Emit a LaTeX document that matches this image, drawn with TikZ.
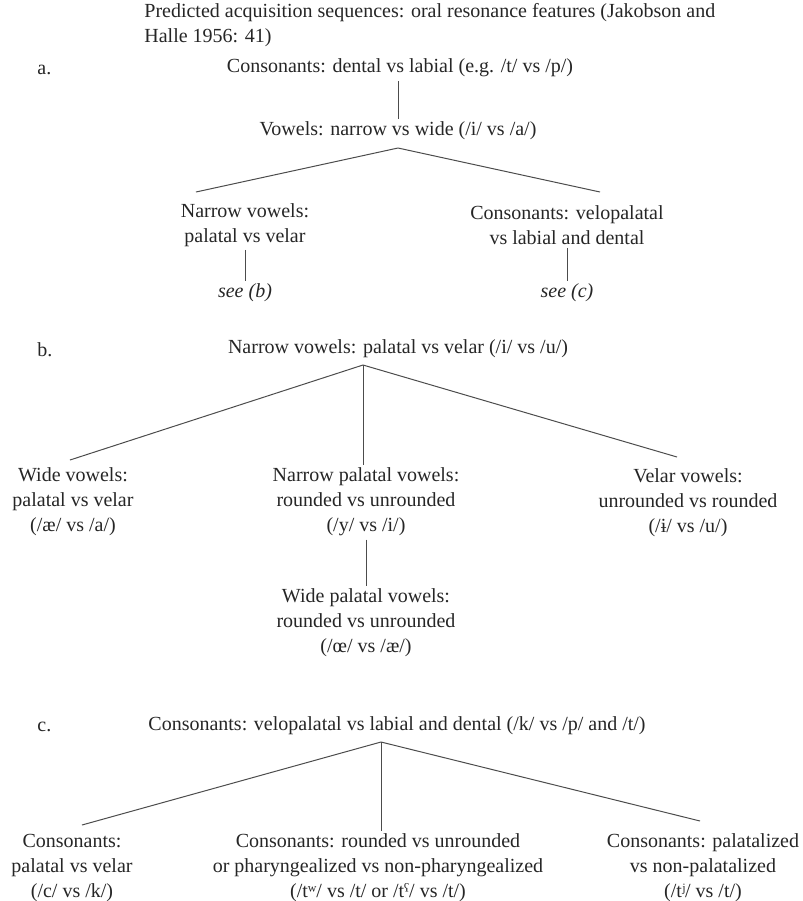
\documentclass[tikz,border=0pt]{standalone}
\usepackage{fontspec}
\setmainfont{Liberation Serif}
\usetikzlibrary{positioning}

\tikzset{
  lbl/.style={inner sep=1.5pt, align=center, text=black!85,
    font=\fontsize{10}{12.5}\selectfont},
  seelbl/.style={lbl, font=\fontsize{10}{12.5}\selectfont\itshape},
  branch/.style={draw=black!70, line width=0.5pt},
}

\begin{document}
\begin{tikzpicture}[x=0.5pt,y=-0.5pt]
  \useasboundingbox (0,0) rectangle (803,901);

  \node[lbl, anchor=west, align=left] (title) at (141,25)
    {Predicted acquisition sequences: oral resonance features (Jakobson and\\Halle 1956: 41)};

  % a.
  \node[lbl, anchor=west] (la) at (34,70) {a.};
  \node[lbl] (atop) at (400,68) {Consonants: dental vs labial (e.g. /t/ vs /p/)};
  \node[lbl] (avow) at (398,131) {Vowels: narrow vs wide (/i/ vs /a/)};
  \node[lbl] (anar) at (245,225) {Narrow vowels:\\palatal vs velar};
  \node[lbl] (acon) at (567,225) {Consonants: velopalatal\\vs labial and dental};
  \node[seelbl] (aseeb) at (245,293) {see (b)};
  \node[seelbl] (aseec) at (567,293) {see (c)};
  \coordinate (aapex) at (398,148);
  \coordinate (aleft) at (196,192);
  \coordinate (aright) at (600,192);

  \draw[branch] (avow.north) -- (avow.north |- atop.south);
  \draw[branch] (aapex) -- (aleft);
  \draw[branch] (aapex) -- (aright);
  \draw[branch] (anar) -- (aseeb);
  \draw[branch] (acon) -- (aseec);

  % b.
  \node[lbl, anchor=west] (lb) at (34,350) {b.};
  \node[lbl] (btop) at (398,349) {Narrow vowels: palatal vs velar (/i/ vs /u/)};
  \node[lbl] (bwide) at (73,502) {Wide vowels:\\palatal vs velar\\(/æ/ vs /a/)};
  \node[lbl] (bnar) at (366,502) {Narrow palatal vowels:\\rounded vs unrounded\\(/y/ vs /i/)};
  \node[lbl] (bvel) at (688,503) {Velar vowels:\\unrounded vs rounded\\(/ɨ/ vs /u/)};
  \node[lbl] (bwpal) at (366,623) {Wide palatal vowels:\\rounded vs unrounded\\(/œ/ vs /æ/)};
  \coordinate (bapex) at (363,365);
  \coordinate (bleft) at (70,460);
  \coordinate (bright) at (677,457);

  \draw[branch] (bapex) -- (bleft);
  \draw[branch] (bapex) -- (bnar.north -| bapex);
  \draw[branch] (bapex) -- (bright);
  \draw[branch] (bnar) -- (bwpal);

  % c.
  \node[lbl, anchor=west] (lc) at (34,727) {c.};
  \node[lbl] (ctop) at (397,726) {Consonants: velopalatal vs labial and dental (/k/ vs /p/ and /t/)};
  \node[lbl] (cpal) at (72,868) {Consonants:\\palatal vs velar\\(/c/ vs /k/)};
  \node[lbl] (crnd) at (378,868) {Consonants: rounded vs unrounded\\or pharyngealized vs non-pharyngealized\\(/tʷ/ vs /t/ or /tˤ/ vs /t/)};
  \node[lbl] (cplz) at (703,868) {Consonants: palatalized\\vs non-palatalized\\(/tʲ/ vs /t/)};
  \coordinate (capex) at (381,742);
  \coordinate (cleft) at (82,825);
  \coordinate (cright) at (700,821);

  \draw[branch] (capex) -- (cleft);
  \draw[branch] (capex) -- (crnd.north -| capex);
  \draw[branch] (capex) -- (cright);
\end{tikzpicture}
\end{document}
